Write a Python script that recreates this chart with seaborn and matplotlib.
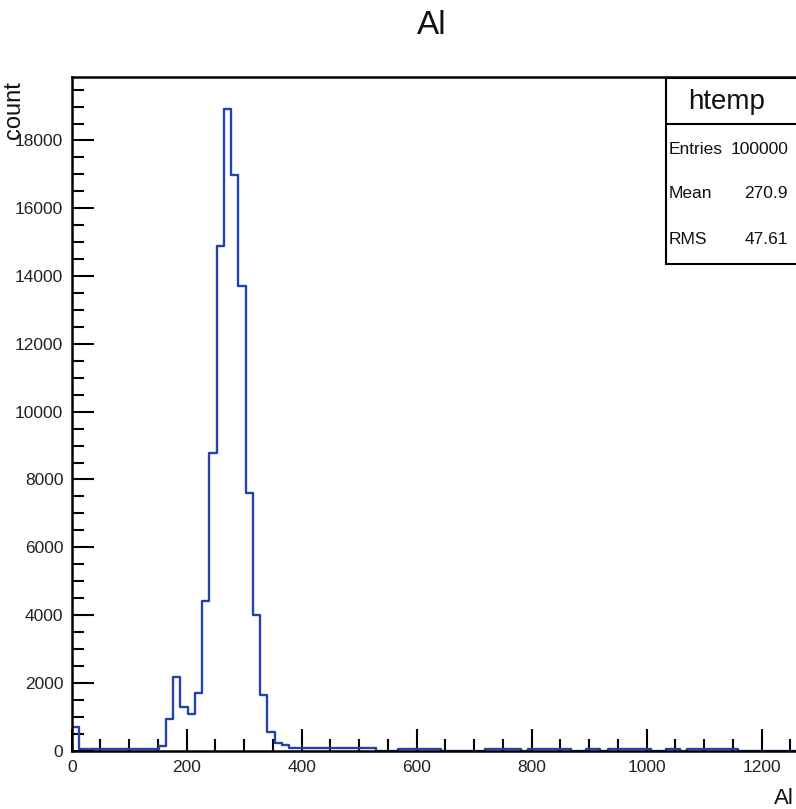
import numpy as np
import pandas as pd
import matplotlib
matplotlib.use("Agg")
import matplotlib.pyplot as plt
from matplotlib.patches import Rectangle
from matplotlib.lines import Line2D
from matplotlib.ticker import MultipleLocator
import seaborn as sns

# ---------------- data ----------------
x_min, x_max, n_bins = 0.0, 1260.0, 100
counts = [
    690, 50, 50, 50, 50, 50, 50, 50, 50, 50,
    50, 50, 130, 927, 2184, 1298, 1083, 1711, 4417, 8775,
    14901, 18926, 16987, 13721, 7595, 4004, 1644, 561, 236, 160,
    75, 75, 75, 75, 75, 75, 75, 75, 75, 75,
    75, 75, 0, 0, 0, 60, 60, 60, 60, 60,
    60, 0, 0, 0, 0, 0, 0, 60, 60, 60,
    60, 60, 0, 60, 60, 60, 60, 60, 60, 0,
    0, 60, 60, 0, 60, 60, 60, 60, 60, 60,
    0, 0, 60, 60, 0, 60, 60, 60, 60, 60,
    60, 60, 0, 0, 0, 0, 0, 0, 0, 0,
]
x_ticks = [0, 200, 400, 600, 800, 1000, 1200]
y_ticks = [0, 2000, 4000, 6000, 8000, 10000, 12000, 14000, 16000, 18000]
stat_names = ["Entries", "Mean", "RMS"]
stat_values = ["100000", "270.9", "47.61"]
hist_name = "htemp"
title = "Al"
x_label = "Al"
y_label = "count"

edges = np.linspace(x_min, x_max, n_bins + 1)
centers = (edges[:-1] + edges[1:]) / 2
df = pd.DataFrame({"Al": centers, "count": counts})

# ---------------- style ----------------
sns.set_theme(style="white")
plt.rcParams["font.family"] = ["Liberation Sans", "DejaVu Sans"]

W, H = 796, 809
fig = plt.figure(figsize=(W / 100, H / 100), dpi=100)
ax = fig.add_axes([71.7 / W, 58.3 / H, 1 - 71.7 / W, (750.7 - 77) / H])

line_color = "#2244aa"
sns.histplot(data=df, x="Al", weights="count", bins=n_bins,
             binrange=(x_min, x_max), element="step",
             fill=False, color=line_color, linewidth=1.7, ax=ax)

ax.set_xlim(x_min, x_max)
ax.set_ylim(0, 1.05 * max(counts))
ax.set_xticks(x_ticks)
ax.set_yticks(y_ticks)
ax.xaxis.set_minor_locator(MultipleLocator(50))
ax.yaxis.set_minor_locator(MultipleLocator(500))
ax.tick_params(axis="both", which="major", direction="in", length=16, width=1.5,
               color="black", labelsize=12.5, labelcolor="#222222")
ax.tick_params(axis="both", which="minor", direction="in", length=8.5, width=1.5,
               color="black")
ax.tick_params(axis="x", which="both", bottom=True, top=False, pad=7)
ax.tick_params(axis="y", which="both", left=True, right=False, pad=6)
ax.set_xlabel("")
ax.set_ylabel("")
for side in ["left", "bottom", "top"]:
    ax.spines[side].set_visible(True)
    ax.spines[side].set_color("black")
    ax.spines[side].set_linewidth(1.8)
ax.spines["right"].set_visible(False)

# ---------------- texts ----------------
fig.text(432 / W, 1 - 25 / H, title, ha="center", va="center", fontsize=24,
         color="#111111")
fig.text(784 / W, 1 - 798 / H, x_label, ha="center", va="center", fontsize=16,
         color="#111111")
fig.text(14 / W, 1 - 110 / H, y_label, ha="center", va="center", rotation=90,
         fontsize=17, color="#111111")

# ---------------- stats box ----------------
bx0, by_top, by_bot, by_sep = 666 / W, 1 - 78 / H, 1 - 264 / H, 1 - 124.3 / H
fig.add_artist(Rectangle((bx0, by_bot), 1.02 - bx0, by_top - by_bot,
                         transform=fig.transFigure, facecolor="white",
                         edgecolor="black", linewidth=1.5, zorder=5))
fig.add_artist(Line2D([bx0, 1.02], [by_sep, by_sep], transform=fig.transFigure,
                      color="black", linewidth=1.5, zorder=6))
fig.text(727 / W, 1 - 102 / H, hist_name, ha="center", va="center",
         fontsize=20, color="#111111", zorder=7)
row_y = [149, 194, 240]
for name, val, yy in zip(stat_names, stat_values, row_y):
    fig.text(669 / W, 1 - yy / H, name, ha="left", va="center", fontsize=12.5,
             color="#111111", zorder=7)
    fig.text(788 / W, 1 - yy / H, val, ha="right", va="center", fontsize=12.5,
             color="#111111", zorder=7)

fig.savefig("out.png", dpi=100)
